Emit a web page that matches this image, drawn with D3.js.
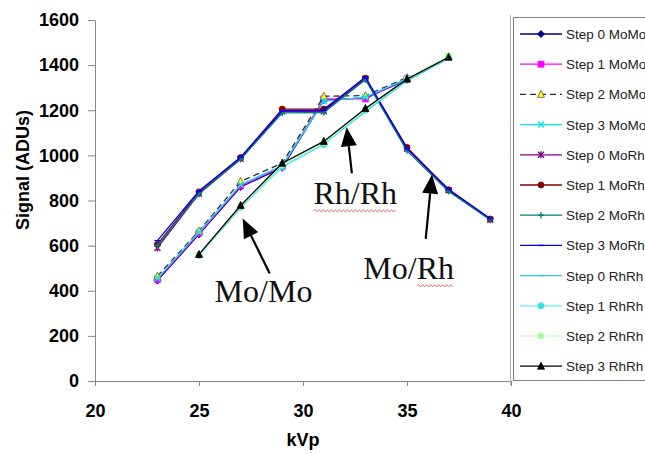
<!DOCTYPE html>
<html>
<head>
<meta charset="utf-8">
<script src="https://cdn.jsdelivr.net/npm/d3@7"></script>
<style>
  html, body { margin: 0; padding: 0; background: #fff; }
  svg { display: block; }
</style>
</head>
<body>
<svg id="chart" width="645" height="454"></svg>
<script>
// kVp settings measured for each filter combination
const kvpMoMo = [23, 25, 27, 29, 31, 33, 35];
const kvpMoRh = [23, 25, 27, 29, 31, 33, 35, 37, 39];
const kvpRhRh = [25, 27, 29, 31, 33, 35, 37];

// Signal (ADUs) per step
const step0MoMo = [445, 650, 860, 945, 1245, 1255, 1335];
const step1MoMo = [450, 655, 865, 950, 1250, 1250, 1340];
const step2MoMo = [465, 665, 885, 965, 1262, 1265, 1345];
const step3MoMo = [455, 660, 870, 955, 1240, 1258, 1340];

const step0MoRh = [590, 830, 985, 1195, 1195, 1340, 1030, 845, 715];
const step1MoRh = [605, 838, 990, 1205, 1205, 1342, 1035, 847, 718];
const step2MoRh = [600, 830, 983, 1188, 1190, 1335, 1020, 840, 715];
const step3MoRh = [622, 842, 992, 1198, 1200, 1347, 1030, 850, 720];

const step0RhRh = [558, 768, 950, 1050, 1195, 1330, 1430];
const step1RhRh = [556, 770, 948, 1048, 1200, 1333, 1435];
const step2RhRh = [562, 775, 958, 1056, 1205, 1340, 1442];
const step3RhRh = [561, 778, 965, 1062, 1208, 1338, 1435];

const seriesNames = [
  "Step 0 MoMo", "Step 1 MoMo", "Step 2 MoMo", "Step 3 MoMo",
  "Step 0 MoRh", "Step 1 MoRh", "Step 2 MoRh", "Step 3 MoRh",
  "Step 0 RhRh", "Step 1 RhRh", "Step 2 RhRh", "Step 3 RhRh"
];

const xTicks = [20, 25, 30, 35, 40];
const yTicks = [0, 200, 400, 600, 800, 1000, 1200, 1400, 1600];

// Arrow annotations: label and arrow segment in data units
const annotations = [
  { text: "Mo/Mo", x: 25.75, y: 350, squiggle: null,
    from: [28.4, 476], to: [27.1, 720] },
  { text: "Rh/Rh", x: 30.5, y: 785, squiggle: [0, 5],
    from: [32.35, 920], to: [32.1, 1125] },
  { text: "Mo/Rh", x: 32.9, y: 453, squiggle: [3, 5],
    from: [35.9, 630], to: [36.2, 915] }
];

// ---- styling per series ----
const styles = [
  { color: "#000080", marker: "diamond", fill: "#000080" },
  { color: "#ff00ff", marker: "square", fill: "#ff00ff" },
  { color: "#303030", marker: "triangle", fill: "#ffff00", dash: "6,4" },
  { color: "#00e8f0", marker: "x", fill: "none" },
  { color: "#800080", marker: "star", fill: "none" },
  { color: "#800000", marker: "circle", fill: "#800000" },
  { color: "#008080", marker: "plus", fill: "none" },
  { color: "#0000ff", marker: "dash", fill: "none" },
  { color: "#33c8d8", marker: "dash", fill: "none" },
  { color: "#66f0f0", marker: "circle", fill: "#33e0e8" },
  { color: "#ccffcc", marker: "circle", fill: "#99ff99" },
  { color: "#000000", marker: "triangle", fill: "#000000" }
];

const seriesValues = [
  step0MoMo, step1MoMo, step2MoMo, step3MoMo,
  step0MoRh, step1MoRh, step2MoRh, step3MoRh,
  step0RhRh, step1RhRh, step2RhRh, step3RhRh
];
const seriesKvp = [
  kvpMoMo, kvpMoMo, kvpMoMo, kvpMoMo,
  kvpMoRh, kvpMoRh, kvpMoRh, kvpMoRh,
  kvpRhRh, kvpRhRh, kvpRhRh, kvpRhRh
];

const series = seriesNames.map((name, i) => ({
  name,
  style: styles[i],
  points: seriesKvp[i].map((k, j) => ({ k, v: seriesValues[i][j] }))
}));

const svg = d3.select("#chart");
const x = d3.scaleLinear().domain([20, 40]).range([95, 511]);
const y = d3.scaleLinear().domain([0, 1600]).range([381, 20]);

const axisColor = "#878787";
const tickFont = "'Liberation Sans', Arial, sans-serif";

// y axis
const gy = svg.append("g")
  .attr("transform", `translate(${x(20)},0)`)
  .call(d3.axisLeft(y).tickValues(yTicks).tickFormat(d3.format("d"))
    .tickSize(7).tickPadding(9).tickSizeOuter(0));
gy.select(".domain").attr("stroke", axisColor);
gy.selectAll(".tick line").attr("stroke", axisColor);
gy.selectAll(".tick text")
  .attr("fill", "#000").style("font-family", tickFont)
  .style("font-size", "18px").style("font-weight", "bold");

// x axis
const gx = svg.append("g")
  .attr("transform", `translate(0,${y(0)})`)
  .call(d3.axisBottom(x).tickValues(xTicks).tickFormat(d3.format("d"))
    .tickSize(5).tickPadding(18).tickSizeOuter(0));
gx.select(".domain").attr("stroke", axisColor);
gx.selectAll(".tick line").attr("stroke", axisColor);
gx.selectAll(".tick text")
  .attr("fill", "#000").style("font-family", tickFont)
  .style("font-size", "18px").style("font-weight", "bold");

// axis titles
svg.append("text")
  .attr("x", 303).attr("y", 446)
  .attr("text-anchor", "middle")
  .style("font-family", tickFont).style("font-size", "18px").style("font-weight", "bold")
  .text("kVp");
svg.append("text")
  .attr("transform", "translate(29,170) rotate(-90)")
  .attr("text-anchor", "middle")
  .style("font-family", tickFont).style("font-size", "18px").style("font-weight", "bold")
  .text("Signal (ADUs)");

// markers
function markerPath(type, s) {
  const h = s / 2;
  switch (type) {
    case "diamond": return `M0,${-h - 0.5}L${h + 0.5},0L0,${h + 0.5}L${-h - 0.5},0Z`;
    case "square": return `M${-h},${-h}H${h}V${h}H${-h}Z`;
    case "triangle": return `M0,${-h - 1}L${h + 0.5},${h}L${-h - 0.5},${h}Z`;
    case "circle": return d3.symbol(d3.symbolCircle, s * s * 0.8)();
    case "x": return `M${-h},${-h}L${h},${h}M${-h},${h}L${h},${-h}`;
    case "star": return `M${-h},${-h}L${h},${h}M${-h},${h}L${h},${-h}M0,${-h - 0.5}V${h + 0.5}`;
    case "plus": return `M${-h},0H${h}M0,${-h}V${h}`;
    case "dash": return `M${-h},0H${h}`;
  }
}

function markerStroke(st) {
  if (st.marker === "triangle" && st.fill === "#ffff00") return "#606060";
  return st.fill === "none" ? st.color : st.fill;
}

const line = d3.line().x(d => x(d.k)).y(d => y(d.v));
const plot = svg.append("g");

series.forEach(s => {
  const g = plot.append("g");
  g.append("path")
    .datum(s.points)
    .attr("d", line)
    .attr("fill", "none")
    .attr("stroke", s.style.color)
    .attr("stroke-width", 1.3)
    .attr("stroke-dasharray", s.style.dash || null);
  g.selectAll("path.m")
    .data(s.points)
    .join("path")
    .attr("class", "m")
    .attr("transform", d => `translate(${x(d.k)},${y(d.v)})`)
    .attr("d", markerPath(s.style.marker, 6))
    .attr("fill", s.style.fill)
    .attr("stroke", markerStroke(s.style))
    .attr("stroke-width", s.style.fill === "none" ? 1.4 : 0.8);
});

// annotations with arrows
function arrow(x1, y1, x2, y2) {
  const ang = Math.atan2(y2 - y1, x2 - x1);
  const len = 19, half = 8;
  const bx = x2 - len * Math.cos(ang), by = y2 - len * Math.sin(ang);
  const nx = -Math.sin(ang), ny = Math.cos(ang);
  svg.append("line")
    .attr("x1", x1).attr("y1", y1).attr("x2", bx).attr("y2", by)
    .attr("stroke", "#000").attr("stroke-width", 2.2);
  svg.append("path")
    .attr("d", `M${x2},${y2}L${bx + nx * half},${by + ny * half}L${bx - nx * half},${by - ny * half}Z`)
    .attr("fill", "#000");
}

function squiggle(x0, x1, yy) {
  let d = `M${x0},${yy}`;
  let up = true;
  for (let xx = x0 + 2; xx <= x1; xx += 2) {
    d += `L${xx},${yy + (up ? -1.2 : 1.2)}`;
    up = !up;
  }
  svg.append("path").attr("d", d).attr("fill", "none")
    .attr("stroke", "#e05050").attr("stroke-width", 0.8);
}

annotations.forEach(a => {
  const t = svg.append("text")
    .attr("x", x(a.x)).attr("y", y(a.y))
    .style("font-family", "'Liberation Serif', 'Times New Roman', serif")
    .style("font-size", "32px")
    .attr("fill", "#111")
    .text(a.text);
  if (a.squiggle) {
    const node = t.node();
    const start = node.getStartPositionOfChar(a.squiggle[0]).x;
    const end = node.getEndPositionOfChar(a.squiggle[1] - 1).x;
    squiggle(start, end, y(a.y) + 7);
  }
  arrow(x(a.from[0]), y(a.from[1]), x(a.to[0]), y(a.to[1]));
});

// legend
svg.append("line")
  .attr("x1", 510.5).attr("x2", 510.5).attr("y1", 15).attr("y2", 385)
  .attr("stroke", "#b0b0b0");
svg.append("rect")
  .attr("x", 513.5).attr("y", 17.5).attr("width", 140).attr("height", 363)
  .attr("fill", "#fff").attr("stroke", "#808080");

const legend = svg.append("g");
series.forEach((s, i) => {
  const cy = 34 + i * 30.2;
  const row = legend.append("g").attr("transform", `translate(0,${cy})`);
  row.append("line")
    .attr("x1", 520).attr("x2", 562).attr("y1", 0).attr("y2", 0)
    .attr("stroke", s.style.color).attr("stroke-width", 1.3)
    .attr("stroke-dasharray", s.style.dash || null);
  row.append("path")
    .attr("transform", "translate(541,0)")
    .attr("d", markerPath(s.style.marker, 6))
    .attr("fill", s.style.fill)
    .attr("stroke", markerStroke(s.style))
    .attr("stroke-width", s.style.fill === "none" ? 1.4 : 0.8);
  row.append("text")
    .attr("x", 566).attr("y", 5)
    .style("font-family", tickFont).style("font-size", "13.5px")
    .attr("fill", "#222")
    .text(s.name);
});
</script>
</body>
</html>
